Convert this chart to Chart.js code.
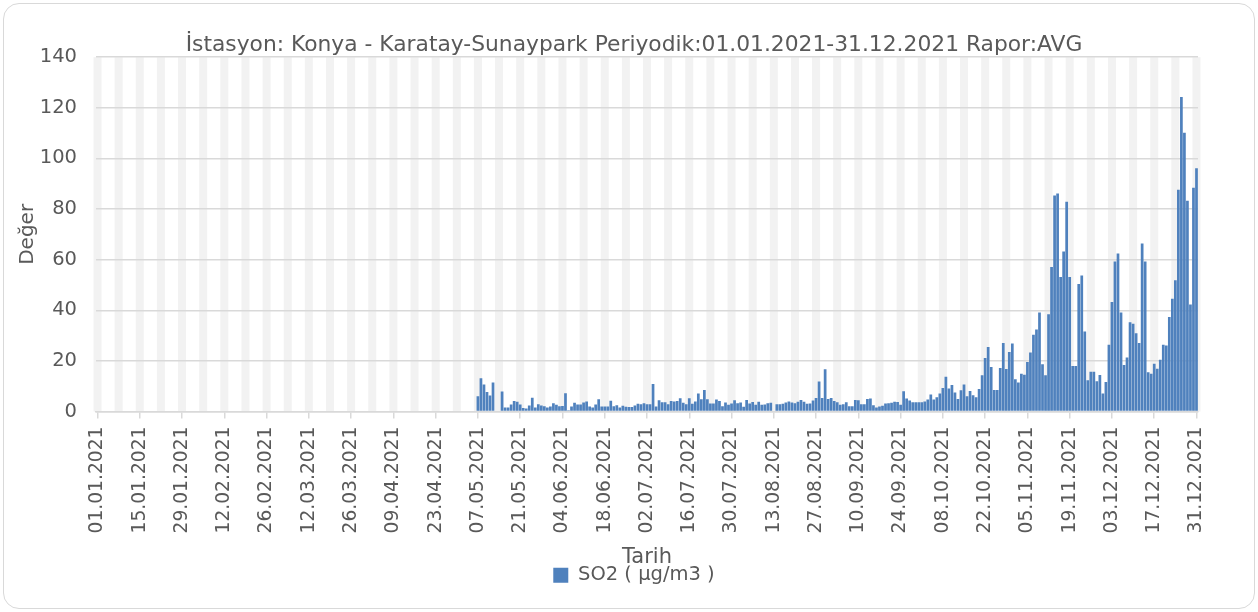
<!DOCTYPE html>
<html>
<head>
<meta charset="utf-8">
<script src="https://cdn.jsdelivr.net/npm/chart.js@4.4.1/dist/chart.umd.min.js"></script>
<style>
  body { margin: 0; background: #fff; }
  #wrap { position: relative; width: 1258px; height: 612px; }
  #frame { position: absolute; left: 3px; top: 3px; width: 1250px; height: 604px;
           border: 1px solid #d9d9d9; border-radius: 16px; }
  #grafico { position: absolute; left: 0; top: 0; }
</style>
</head>
<body>
<div id="wrap">
  <div id="frame"></div>
  <canvas id="grafico" width="1258" height="612"></canvas>
</div>
<script>
// SO2 günlük ortalama, Konya Karatay-Sunaypark 2021
var tickLabels = ['01.01.2021', '15.01.2021', '29.01.2021', '12.02.2021', '26.02.2021', '12.03.2021',
  '26.03.2021', '09.04.2021', '23.04.2021', '07.05.2021', '21.05.2021', '04.06.2021', '18.06.2021',
  '02.07.2021', '16.07.2021', '30.07.2021', '13.08.2021', '27.08.2021', '10.09.2021', '24.09.2021',
  '08.10.2021', '22.10.2021', '05.11.2021', '19.11.2021', '03.12.2021', '17.12.2021', '31.12.2021'];

// olcum 07.05.2021'de basliyor, oncesi veri yok
var so2FirstDay = '07.05.2021';
var so2Values = [
  6.0, 13.1, 10.7, 7.7, 6.3, 11.5, null, null,
  7.9, 1.6, 1.6, 2.8, 4.1, 3.9, 2.8, 1.4, 1.2, 2.4, 5.4, 1.6, 2.9, 2.4, 2.1, 1.6, 2.0, 3.3, 2.7, 2.1, 2.2,
  7.2, 0.5, 2.0, 3.5, 2.8, 2.8, 3.6, 4.0, 2.0, 1.6, 2.8, 4.8, 2.0, 2.0, 2.0, 4.2,
  2.1, 2.5, 1.6, 2.3, 1.9, 1.8, 1.8, 2.4, 3.1, 2.9, 3.3, 2.9, 2.9, 10.9, 2.0, 4.4, 3.7, 3.7, 2.9, 4.1,
  4.0, 4.1, 5.2, 3.5, 2.9, 5.2, 3.1, 4.0, 7.1, 4.8, 8.5, 4.8, 3.2, 3.2, 4.7, 4.1, 2.1, 3.6, 2.7, 3.2,
  4.4, 3.3, 3.6, 1.9, 4.5, 3.2, 3.8, 2.7,
  3.9, 2.7, 2.8, 3.3, 3.5, null,
  2.9, 2.9, 3.1, 3.6, 4.0, 3.6, 3.3, 3.9, 4.5, 3.9, 3.1, 3.2, 4.3, 5.3, 11.9, 5.3, 16.7, 4.9, 5.3, 4.1,
  3.7, 2.7, 2.9, 3.7, 2.1, 2.1, 4.5, 4.4, 2.9, 2.9, 4.9, 5.1, 2.5, 1.6, 2.0, 2.3, 3.2, 3.3, 3.5, 3.9, 3.8,
  2.7, 8.0, 5.1, 4.3, 3.7, 3.7, 3.7, 3.7, 4.0, 4.7, 6.7, 4.7, 5.6, 7.1, 9.3, 13.7, 9.1, 10.5, 7.5, 4.9,
  8.4, 10.7, 6.0, 8.1, 6.4, 5.6, 8.9, 14.3, 21.1, 25.5, 17.6, 8.5, 8.5, 17.2, 27.1, 16.8, 23.5, 26.9,
  12.7, 11.5, 14.9, 14.5, 19.6, 23.3, 30.3, 32.4, 39.1,
  18.7, 14.3, 38.4, 57.1, 85.3, 86.1, 53.1, 63.2, 82.9, 53.1, 18.0, 18.0, 50.4, 53.7, 31.6, 12.3, 15.7,
  15.7, 12.0, 14.4, 7.1, 11.7, 26.4, 43.3, 59.3, 62.4, 39.1, 18.4, 21.3, 35.3, 34.7, 30.9, 27.1, 66.4,
  59.3, 15.5, 14.9, 18.9, 16.9, 20.4, 26.4, 26.1, 37.3, 44.5, 51.9, 87.6, 124.3, 110.1, 83.3, 42.3,
  88.4, 96.1
];

// gunluk kategoriler 01.01 - 31.12
var labels = [];
for (var i = 0; i < 365; i++) {
  var d = new Date(2021, 0, 1 + i);
  var gun = ('0' + d.getDate()).slice(-2);
  var ay = ('0' + (d.getMonth() + 1)).slice(-2);
  labels.push(gun + '.' + ay + '.' + d.getFullYear());
}
var bas = labels.indexOf(so2FirstDay);
var so2Data = labels.map(function (l, i) {
  var k = i - bas;
  return (k >= 0 && k < so2Values.length) ? so2Values[k] : null;
});

var yazi = '#595959';
Chart.defaults.font.family = 'DejaVu Sans';
Chart.defaults.color = yazi;

// haftalik gri seritler (izgaranin altinda)
var seritler = {
  id: 'seritler',
  beforeDraw: function (chart) {
    var ctx = chart.ctx, a = chart.chartArea, x = chart.scales.x;
    ctx.save();
    ctx.fillStyle = '#f2f2f2';
    for (var i = 0; i < labels.length; i += 7) {
      var px = x.getPixelForValue(i);
      ctx.fillRect(px - 4, a.top, 8, a.bottom - a.top);
    }
    ctx.restore();
  }
};

var ctx = document.getElementById('grafico').getContext('2d');
var grafico = new Chart(ctx, {
  type: 'bar',
  data: {
    labels: labels,
    datasets: [{
      label: 'SO2 ( µg/m3 )',
      data: so2Data,
      backgroundColor: '#4f81bd',
      borderWidth: 0,
      barPercentage: 0.9,
      categoryPercentage: 1
    }]
  },
  options: {
    responsive: false,
    animation: false,
    devicePixelRatio: 1,
    layout: { padding: { left: 10, right: 0, top: 0, bottom: 17 } },
    plugins: {
      title: {
        display: true,
        text: 'İstasyon: Konya - Karatay-Sunaypark Periyodik:01.01.2021-31.12.2021 Rapor:AVG',
        color: yazi,
        font: { size: 21.8, weight: 'normal' },
        padding: { top: 32, bottom: -1 }
      },
      legend: {
        position: 'bottom',
        labels: { boxWidth: 15, boxHeight: 15, padding: 0, color: yazi, font: { size: 19.5 } }
      },
      tooltip: { enabled: false }
    },
    scales: {
      x: {
        offset: true,
        grid: { offset: false, drawOnChartArea: false, tickLength: 7, color: '#d9d9d9', lineWidth: 1.5 },
        border: { color: '#d9d9d9', width: 1.5 },
        ticks: {
          autoSkip: false,
          minRotation: 90,
          maxRotation: 90,
          padding: 8,
          color: yazi,
          font: { size: 18.7 },
          callback: function (val, i) {
            return tickLabels.indexOf(labels[i]) >= 0 ? labels[i] : null;
          }
        },
        title: { display: true, text: 'Tarih', color: yazi, font: { size: 21 }, padding: { top: 0, bottom: -5 } },
        afterFit: function (s) { s.height = 154; }
      },
      y: {
        min: 0,
        max: 140,
        grid: { color: '#d9d9d9', lineWidth: 1.5, drawTicks: false },
        border: { display: false },
        ticks: { stepSize: 20, padding: 19, color: yazi, font: { size: 19.5 } },
        title: { display: true, text: 'Değer', color: yazi, font: { size: 20 }, padding: { top: 6, bottom: 0 } },
        afterFit: function (s) { s.width = 86; }
      },
      bosluk: {
        type: 'linear',
        position: 'right',
        grid: { display: false },
        border: { display: false },
        ticks: { display: false },
        afterFit: function (s) { s.width = 60; }
      }
    }
  },
  plugins: [seritler]
});
</script>
</body>
</html>
